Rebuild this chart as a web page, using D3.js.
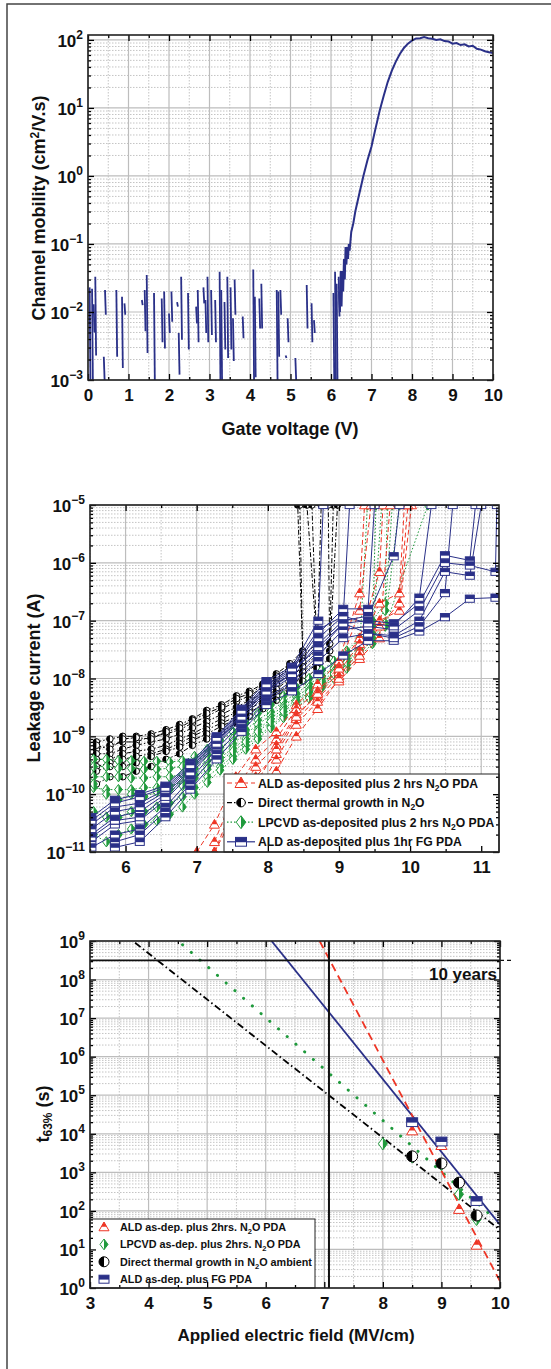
<!DOCTYPE html>
<html>
<head>
<meta charset="utf-8">
<script src="https://cdn.jsdelivr.net/npm/d3@7"></script>
<style>
  body { margin: 0; background: #fff; }
  svg text { font-family: "Liberation Sans", Arial, sans-serif; font-weight: bold; fill: #111; }
</style>
</head>
<body>
<svg id="fig" width="551" height="1369"></svg>
<script>
// ---------- panel 1: channel mobility vs gate voltage ----------
const gateV = [6.20,6.22,6.24,6.26,6.28,6.30,6.32,6.34,6.36,6.38,6.40,6.42,6.44,6.46,6.50,6.55,6.60,6.70,6.80,6.90,7.00,7.10,7.20,7.30,7.40,7.50,7.60,7.70,7.80,7.90,8.00,8.10,8.20,8.30,8.40,8.50,8.60,8.70,8.80,8.90,9.00,9.10,9.20,9.30,9.40,9.50,9.60,9.70,9.80,9.90,10.0];
const mobility = [0.02,0.01,0.04,0.012,0.04,0.02,0.06,0.03,0.09,0.05,0.09,0.06,0.1,0.08,0.15,0.2,0.3,0.55,1.0,1.7,2.7,5,9,15,24,35,48,62,76,88,98,105,106,110,106,104,100,102,96,95,88,90,84,86,80,82,74,72,68,66,64];
// noisy sub-threshold readings (voltage, upper and lower value of each stroke)
const noiseV  = [0.04,0.10,0.14,0.18,0.39,0.42,0.70,0.84,0.90,1.33,1.40,1.45,1.63,1.82,1.88,2.00,2.06,2.20,2.24,2.30,2.47,2.67,2.71,2.85,2.90,2.95,3.04,3.14,3.25,3.29,3.37,3.44,3.52,3.58,3.62,3.82,4.08,4.12,4.23,4.28,4.66,4.70,4.75,4.88,4.93,5.12,5.40,5.52,5.58,6.06,6.10,6.14,6.19];
const noiseHi = [0.023,0.022,0.013,0.033,0.0022,0.021,0.021,0.0168,0.0134,0.015,0.021,0.035,0.019,0.0158,0.020,0.0095,0.020,0.014,0.0049,0.033,0.019,0.012,0.021,0.023,0.015,0.033,0.021,0.015,0.039,0.021,0.014,0.033,0.023,0.0081,0.030,0.0086,0.042,0.0168,0.0158,0.026,0.021,0.020,0.021,0.0023,0.0081,0.0021,0.025,0.0134,0.0076,0.019,0.039,0.026,0.033];
const noiseLo = [0.001,0.001,0.005,0.0023,0.001,0.0091,0.0022,0.0015,0.0091,0.0126,0.0052,0.0025,0.001,0.0036,0.0029,0.0049,0.0072,0.012,0.0012,0.0039,0.0028,0.0068,0.0036,0.0134,0.0049,0.0036,0.0046,0.0036,0.001,0.001,0.0028,0.0021,0.0028,0.0019,0.0091,0.0041,0.001,0.0011,0.0057,0.0057,0.001,0.0022,0.0091,0.0021,0.0036,0.001,0.0057,0.0036,0.0049,0.001,0.001,0.001,0.0086];

// ---------- panel 2: leakage current ramps ----------
const thermalV = [5.59,5.78,5.96,6.15,6.36,6.57,6.76,6.94,7.14,7.35,7.56,7.74,7.93,8.12,8.31,8.49,8.69,8.87];
const thermalRuns = [
  [8e-10,9e-10,1e-9,1e-9,1.1e-9,1.3e-9,1.6e-9,2e-9,2.8e-9,3.5e-9,5e-9,6e-9,8e-9,1.2e-8,1.8e-8,3e-8],
  [6e-10,7e-10,8e-10,8e-10,1e-9,1.1e-9,1.3e-9,1.7e-9,2.2e-9,3e-9,4e-9,5e-9,7e-9,1e-8,1.5e-8,2.5e-8,4e-8],
  [5e-10,5e-10,6e-10,7e-10,8e-10,9e-10,1.1e-9,1.4e-9,1.8e-9,2.4e-9,3.2e-9,4.2e-9,5.5e-9,8e-9,1.2e-8,2e-8,3e-8],
  [4e-10,4e-10,5e-10,5.5e-10,6e-10,7e-10,9e-10,1.1e-9,1.5e-9,2e-9,2.6e-9,3.5e-9,4.5e-9,6.5e-9,1e-8,1.6e-8,2.5e-8,4e-8],
  [3e-10,3.5e-10,4e-10,4.5e-10,5e-10,6e-10,7.5e-10,1e-9,1.3e-9,1.7e-9,2.2e-9,3e-9,4e-9,5.5e-9,8e-9,1.3e-8,2e-8,3e-8],
  [2.5e-10,3e-10,3e-10,3.5e-10,4.5e-10,5.5e-10,6.5e-10,8.5e-10,1.1e-9,1.5e-9,2e-9,2.6e-9,3.5e-9,5e-9,7e-9,1.1e-8,1.8e-8],
  [7e-10,6e-10,9e-10,9.5e-10,9e-10,1.2e-9,1.4e-9,1.9e-9,2.5e-9,3.2e-9,4.5e-9,5.5e-9,7.5e-9,1.1e-8,1.6e-8,2.8e-8],
  [1.5e-10,2e-10,2e-10,2.5e-10,3e-10,4e-10,5e-10,7e-10,9e-10,1.2e-9,1.7e-9,2.2e-9,3e-9,4.2e-9,6e-9,9e-9,1.5e-8,2.2e-8]
];
const thermalBreak = [8.42,8.55,8.62,8.92,8.98,8.75,8.45,8.85];

const lpcvdV = [5.55,5.73,5.90,6.08,6.26,6.44,6.62,6.80,6.97,7.15,7.33,7.51,7.69,7.86,8.04,8.22,8.40,8.58,8.76,8.93,9.11,9.29,9.47,9.65];
const lpcvdRuns = [
  [4e-10,4e-10,3.8e-10,3.8e-10,3.7e-10,3.7e-10,3.6e-10,3.8e-10,4.5e-10,6e-10,8.5e-10,1.2e-9,1.7e-9,2.5e-9,3.5e-9,5e-9,7e-9,1e-8,1.4e-8,2e-8,3e-8,5e-8,1e-7,2e-7],
  [3e-10,3e-10,2.8e-10,2.8e-10,2.7e-10,2.7e-10,2.8e-10,3e-10,3.6e-10,4.8e-10,6.5e-10,9e-10,1.3e-9,1.9e-9,2.7e-9,4e-9,5.5e-9,8e-9,1.1e-8,1.6e-8,2.5e-8,4e-8,8e-8,1.5e-7],
  [2e-10,2e-10,2e-10,1.9e-10,1.9e-10,2e-10,2e-10,2.2e-10,2.8e-10,3.8e-10,5.2e-10,7.5e-10,1.1e-9,1.6e-9,2.3e-9,3.3e-9,4.8e-9,7e-9,1e-8,1.5e-8,2.2e-8,3.5e-8,6e-8],
  [1.3e-10,1.2e-10,1.2e-10,1.2e-10,1.3e-10,1.3e-10,1.4e-10,1.6e-10,2.2e-10,3e-10,4.3e-10,6.2e-10,9e-10,1.3e-9,2e-9,3e-9,4.3e-9,6.2e-9,9e-9,1.3e-8,2e-8,3.2e-8,5e-8,9e-8],
  [5e-11,4e-11,4e-11,5e-11,5e-11,6e-11,7e-11,9e-11,1.3e-10,2e-10,3e-10,4.5e-10,7e-10,1e-9,1.5e-9,2.3e-9,3.5e-9,5e-9,7.5e-9,1.1e-8,1.7e-8,2.7e-8,4.5e-8,8e-8],
  [2e-11,1.5e-11,2e-11,2.5e-11,3e-11,3.5e-11,4.5e-11,6e-11,1e-10,1.6e-10,2.6e-10,4e-10,6e-10,9e-10,1.4e-9,2.1e-9,3.2e-9,4.6e-9,7e-9,1e-8,1.5e-8,2.4e-8,4e-8],
  [1.5e-10,1e-10,8e-11,1e-10,9e-11,1.1e-10,1.2e-10,1.4e-10,1.9e-10,2.7e-10,3.8e-10,5.5e-10,8e-10,1.2e-9,1.8e-9,2.7e-9,4e-9,5.8e-9,8.5e-9,1.2e-8,1.9e-8,3e-8]
];
const lpcvdBreak = [9.68,9.75,9.52,9.85,10.25,9.6,9.4];

const aldN2oV = [7.00,7.25,7.55,7.83,8.12,8.40,8.70,9.00,9.29,9.57,9.85];
const aldN2oRuns = [
  [1e-11,3e-11,2e-10,6e-10,1.2e-9,3.5e-9,8e-9,2e-8,3e-7],
  [null,1.5e-11,1.2e-10,4e-10,9e-10,3e-9,6e-9,1.6e-8,5e-8,7e-7],
  [null,1e-11,8e-11,3e-10,7e-10,2.4e-9,5e-9,1.3e-8,4e-8,2e-7,3e-7],
  [null,null,4e-11,2e-10,5e-10,2e-9,4.5e-9,1.1e-8,3e-8,1e-7,1.5e-7],
  [null,null,2e-11,1e-10,4e-10,1.6e-9,4e-9,9e-9,2.2e-8,5e-8],
  [null,null,null,5e-11,2.5e-10,1e-9,3e-9,1e-8,2.5e-8,8e-8,2e-7],
  [null,1e-11,5e-11,1.5e-10,6e-10,2.2e-9,5.5e-9,1.5e-8,1.5e-7]
];
const aldN2oBreak = [9.36,9.62,9.92,10.02,9.72,9.97,9.45];

const aldFgV = [5.52,5.85,6.20,6.56,6.91,7.28,7.63,7.98,8.34,8.71,9.06,9.41,9.77,10.13,10.49,10.84,11.20];
const aldFgRuns = [
  [4e-11,8e-11,1e-10,1.4e-10,3.5e-10,1e-9,3e-9,9e-9,1.6e-8,1e-7],
  [3e-11,6e-11,7e-11,1.2e-10,3e-10,9e-10,2.6e-9,7.5e-9,1.4e-8,6e-8,1.6e-7,1.6e-7],
  [2e-11,4e-11,5e-11,1e-10,2.6e-10,8e-10,2.3e-9,6.5e-9,1.2e-8,4e-8,1e-7,1.2e-7,1.3e-6],
  [1.5e-11,3e-11,3.5e-11,8e-11,2.2e-10,7e-10,2e-9,5.5e-9,1.1e-8,3e-8,9e-8,1e-7,9e-8,2e-7,1.35e-6,1.1e-6],
  [1.2e-11,2e-11,2.5e-11,6e-11,1.8e-10,6e-10,1.7e-9,4.5e-9,9e-9,2.5e-8,7e-8,8e-8,7e-8,1.5e-7,1e-6,9e-7,7e-7],
  [null,1.5e-11,2e-11,5e-11,1.5e-10,5e-10,1.4e-9,4e-9,8e-9,2e-8,5e-8,6e-8,5.5e-8,1e-7,7e-7,6e-7],
  [null,1.2e-11,1.5e-11,4e-11,1.2e-10,4e-10,1.2e-9,3.5e-9,6e-9,1.2e-8,2.5e-8,4.5e-8,4.5e-8,6.5e-8,1.15e-7,2.4e-7,2.5e-7],
  [2.5e-11,5e-11,6e-11,1.1e-10,2.8e-10,8.5e-10,2.4e-9,7e-9,1.3e-8,3.5e-8,9e-8,6e-8,5e-8,8e-8,3e-7],
  [1.8e-11,3.5e-11,4e-11,9e-11,2.4e-10,7.5e-10,2.2e-9,6e-9,1.2e-8,5e-8,1.2e-7,9e-8,8e-8,2.5e-7],
  [3.5e-11,7e-11,9e-11,1.3e-10,3.2e-10,9.5e-10,2.8e-9,8e-9,1.5e-8,7e-8,1.2e-7]
];
const aldFgBreak = [8.78,9.5,9.85,10.92,11.22,11.0,null,10.6,10.3,9.15];
const compliance = 1e-5;

// ---------- panel 3: t63% vs applied field ----------
const aldN2oField = [8.5, 9.0, 9.3, 9.6];
const aldN2oT63 = [1.2e4, 5e3, 1.1e2, 13];
const lpcvdField = [8.0, 8.5, 9.0, 9.3, 9.6];
const lpcvdT63 = [5.5e3, 2.5e3, 1.6e3, 2.7e2, 60];
const thermalField = [8.5, 9.0, 9.3, 9.6];
const thermalT63 = [2.6e3, 1.7e3, 5.4e2, 76];
const aldFgField = [8.5, 9.0, 9.6];
const aldFgT63 = [2e4, 6.3e3, 1.8e2];
// extrapolated fits (end points)
const aldN2oFit = [[6.92, 1e9], [10, 1.5]];
const lpcvdFit = [[4.58, 8e8], [9.9, 65]];
const thermalFit = [[3.77, 9e8], [10, 32]];
const aldFgFit = [[6.1, 1e9], [10, 44]];
const tenYears = 3.15e8;
const markField = 7.08;

const RED = "#ee3424", GREEN = "#1f9a3c", NAVY = "#2a3088", BLACK = "#000";

const svg = d3.select("#fig");
svg.append("path").attr("d", "M551,4H7V1369").attr("fill", "none")
  .attr("stroke", "#444").attr("stroke-width", 1.5);

function makePanel(o) {
  const x = d3.scaleLinear().domain(o.xDom).range([o.left, o.right]);
  const y = d3.scaleLog().domain(o.yDom).range([o.bottom, o.top]);
  const g = svg.append("g");
  const e0 = Math.floor(Math.log10(o.yDom[0]) + 1e-9), e1 = Math.ceil(Math.log10(o.yDom[1]) - 1e-9);
  const decades = d3.range(e0, e1 + 1).map(e => Math.pow(10, e))
    .filter(v => v >= o.yDom[0] * 0.999 && v <= o.yDom[1] * 1.001);
  const yMinor = [];
  d3.range(e0, e1 + 1).forEach(e => {
    for (let k = 2; k < 10; k++) {
      const v = k * Math.pow(10, e);
      if (v > o.yDom[0] && v < o.yDom[1]) yMinor.push(v);
    }
  });

  // grid
  const grid = g.append("g");
  grid.selectAll(".mx").data(o.xMinor).join("line")
    .attr("x1", d => x(d)).attr("x2", d => x(d)).attr("y1", o.top).attr("y2", o.bottom)
    .attr("stroke", "#c4c4c4").attr("stroke-dasharray", "1.5,1.5");
  grid.selectAll(".my").data(yMinor).join("line")
    .attr("y1", d => y(d)).attr("y2", d => y(d)).attr("x1", o.left).attr("x2", o.right)
    .attr("stroke", "#c4c4c4").attr("stroke-dasharray", "1.5,1.5");
  grid.selectAll(".Mx").data(o.xMajor).join("line")
    .attr("x1", d => x(d)).attr("x2", d => x(d)).attr("y1", o.top).attr("y2", o.bottom)
    .attr("stroke", "#bdbdbd").attr("stroke-width", 1.2);
  grid.selectAll(".My").data(decades).join("line")
    .attr("y1", d => y(d)).attr("y2", d => y(d)).attr("x1", o.left).attr("x2", o.right)
    .attr("stroke", "#bdbdbd").attr("stroke-width", 1.2);

  svg.append("clipPath").attr("id", "clip" + o.id).append("rect")
    .attr("x", o.left).attr("y", o.top).attr("width", o.right - o.left).attr("height", o.bottom - o.top);
  const data = g.append("g").attr("clip-path", `url(#clip${o.id})`);
  const over = g.append("g");
  const axes = g.append("g");

  const styleAxis = sel => { sel.select(".domain").remove(); sel.selectAll("line").attr("stroke-width", 1.3); };
  axes.append("g").attr("transform", `translate(0,${o.bottom})`)
    .call(d3.axisBottom(x).tickValues(o.xMajor).tickSize(-6).tickPadding(9).tickFormat(d3.format("d")))
    .call(styleAxis).attr("font-size", 17).attr("font-family", null);
  axes.append("g").attr("transform", `translate(0,${o.bottom})`)
    .call(d3.axisBottom(x).tickValues(o.xMinor).tickSize(-3).tickFormat("")).call(styleAxis);
  axes.append("g").attr("transform", `translate(0,${o.top})`)
    .call(d3.axisTop(x).tickValues(o.xMajor).tickSize(-6).tickFormat("")).call(styleAxis);
  axes.append("g").attr("transform", `translate(0,${o.top})`)
    .call(d3.axisTop(x).tickValues(o.xMinor).tickSize(-3).tickFormat("")).call(styleAxis);
  axes.append("g").attr("transform", `translate(${o.left},0)`)
    .call(d3.axisLeft(y).tickValues(decades).tickSize(-6).tickFormat("")).call(styleAxis);
  axes.append("g").attr("transform", `translate(${o.left},0)`)
    .call(d3.axisLeft(y).tickValues(yMinor).tickSize(-3).tickFormat("")).call(styleAxis);
  axes.append("g").attr("transform", `translate(${o.right},0)`)
    .call(d3.axisRight(y).tickValues(decades).tickSize(-6).tickFormat("")).call(styleAxis);
  axes.append("g").attr("transform", `translate(${o.right},0)`)
    .call(d3.axisRight(y).tickValues(yMinor).tickSize(-3).tickFormat("")).call(styleAxis);

  axes.append("rect").attr("x", o.left).attr("y", o.top)
    .attr("width", o.right - o.left).attr("height", o.bottom - o.top)
    .attr("fill", "none").attr("stroke", "#222").attr("stroke-width", 1.6);

  axes.selectAll(".ylab").data(decades).join("text")
    .attr("x", o.left - 5).attr("y", d => y(d) + 7).attr("text-anchor", "end").attr("font-size", 17)
    .each(function (d) {
      const t = d3.select(this);
      t.append("tspan").text("10");
      t.append("tspan").attr("dy", -8).attr("font-size", 12)
        .text(String(Math.round(Math.log10(d))).replace("-", "\u2212"));
    });
  return { x, y, data, over, axes };
}

// text with sub/superscripts; the baseline shift is undone on the next text run
function richText(sel, parts, subSize) {
  let back = 0;
  parts.forEach(p => {
    if (typeof p === "string") {
      sel.append("tspan").attr("dy", back || null).text(p);
      back = 0;
    } else if (p.sub) {
      sel.append("tspan").attr("dy", 3 + back).attr("font-size", subSize).text(p.sub);
      back = -3;
    } else if (p.sup) {
      sel.append("tspan").attr("dy", -6 + back).attr("font-size", subSize).text(p.sup);
      back = 6;
    }
  });
}

function marker(sel, kind, color, s) {
  if (kind === "tri") {
    const f = 0.55, m = -s + 1.75 * s * f;
    sel.append("path").attr("d", `M0,${-s}L${s},${0.75 * s}L${-s},${0.75 * s}Z`)
      .attr("fill", "#fff").attr("stroke", color);
    sel.append("path").attr("d", `M0,${-s}L${s * f},${m}L${-s * f},${m}Z`).attr("fill", color);
  } else if (kind === "circ") {
    sel.append("circle").attr("r", s).attr("fill", "#fff").attr("stroke", color);
    sel.append("path").attr("d", `M0,${-s}A${s},${s} 0 0 0 0,${s}Z`).attr("fill", color);
  } else if (kind === "dia") {
    const h = s * 1.35;
    sel.append("path").attr("d", `M0,${-h}L${s},0L0,${h}L${-s},0Z`).attr("fill", "#fff").attr("stroke", color);
    sel.append("path").attr("d", `M0,${-h}L${s},0L0,${h}Z`).attr("fill", color);
  } else {
    const h = s * 0.8;
    sel.append("rect").attr("x", -s).attr("y", -h).attr("width", 2 * s).attr("height", 2 * h)
      .attr("fill", "#fff").attr("stroke", color);
    sel.append("rect").attr("x", -s).attr("y", -h).attr("width", 2 * s).attr("height", h * 1.1).attr("fill", color);
  }
}

// ================= panel 1 =================
const p1 = makePanel({ id: 1, left: 88, right: 493, top: 35, bottom: 380,
  xDom: [0, 10], yDom: [1e-3, 118], xMajor: d3.range(0, 11), xMinor: d3.range(0.5, 10, 1) });

p1.data.selectAll(".noise").data(noiseV).join("line")
  .attr("x1", d => p1.x(d)).attr("x2", d => p1.x(d + 0.02))
  .attr("y1", (d, i) => p1.y(noiseHi[i])).attr("y2", (d, i) => p1.y(noiseLo[i]))
  .attr("stroke", NAVY).attr("stroke-width", 1.8);
p1.data.append("path").datum(gateV.map((v, i) => [v, mobility[i]]))
  .attr("d", d3.line().x(d => p1.x(d[0])).y(d => p1.y(d[1])))
  .attr("fill", "none").attr("stroke", NAVY).attr("stroke-width", 2);

p1.axes.append("text").attr("x", 290).attr("y", 435).attr("text-anchor", "middle")
  .attr("font-size", 18).text("Gate voltage (V)");
p1.axes.append("text").attr("transform", "translate(45,208) rotate(-90)").attr("text-anchor", "middle")
  .attr("font-size", 18).call(t => richText(t, ["Channel mobility (cm", { sup: "2" }, "/V.s)"], 12));

// ================= panel 2 =================
const p2 = makePanel({ id: 2, left: 90, right: 499, top: 505, bottom: 852,
  xDom: [5.5, 11.25], yDom: [1e-11, 1e-5], xMajor: d3.range(6, 12), xMinor: d3.range(5.5, 11.3, 1) });

const groups = [
  { xs: thermalV, runs: thermalRuns, brk: thermalBreak, color: BLACK, dash: "5,2,1.5,2", kind: "circ", s: 3.3 },
  { xs: lpcvdV, runs: lpcvdRuns, brk: lpcvdBreak, color: GREEN, dash: "1.5,2", kind: "dia", s: 3.8 },
  { xs: aldN2oV, runs: aldN2oRuns, brk: aldN2oBreak, color: RED, dash: "5,3", kind: "tri", s: 5 },
  { xs: aldFgV, runs: aldFgRuns, brk: aldFgBreak, color: NAVY, dash: null, kind: "sq", s: 4.5 }
];
const line2 = d3.line().x(d => p2.x(d[0])).y(d => p2.y(d[1]));
groups.forEach(gr => {
  const all = [];
  gr.runs.forEach((run, i) => {
    const pts = run.map((v, j) => [gr.xs[j], v]).filter(d => d[1] != null);
    const path = pts.slice();
    if (gr.brk[i] != null) {
      path.push([gr.brk[i], compliance], [11.25, compliance]);
      pts.push([gr.brk[i], compliance]);
    }
    p2.data.append("path").datum(path).attr("d", line2).attr("fill", "none")
      .attr("stroke", gr.color).attr("stroke-width", 1).attr("stroke-dasharray", gr.dash);
    all.push(...pts);
  });
  p2.data.selectAll(null).data(all).join("g")
    .attr("transform", d => `translate(${p2.x(d[0])},${p2.y(d[1])})`)
    .each(function () { marker(d3.select(this), gr.kind, gr.color, gr.s); });
});

// legend panel 2
const leg2 = p2.over.append("g");
leg2.append("rect").attr("x", 224).attr("y", 774).attr("width", 275).attr("height", 78)
  .attr("fill", "#fff").attr("stroke", "#222").attr("stroke-width", 1);
const leg2Items = [
  { g: groups[2], txt: ["ALD as-deposited plus 2 hrs N", { sub: "2" }, "O PDA"] },
  { g: groups[0], txt: ["Direct thermal growth in N", { sub: "2" }, "O"] },
  { g: groups[1], txt: ["LPCVD as-deposited plus 2 hrs N", { sub: "2" }, "O PDA"] },
  { g: groups[3], txt: ["ALD as-deposited plus 1hr FG PDA"] }
];
leg2Items.forEach((it, i) => {
  const cy = 783 + i * 19.6;
  leg2.append("line").attr("x1", 227).attr("x2", 255).attr("y1", cy).attr("y2", cy)
    .attr("stroke", it.g.color).attr("stroke-width", 1.2).attr("stroke-dasharray", it.g.dash);
  const m = leg2.append("g").attr("transform", `translate(241,${cy})`);
  marker(m, it.g.kind, it.g.color, it.g.kind === "tri" ? 6 : it.g.s + 1);
  leg2.append("text").attr("x", 258).attr("y", cy + 4.5).attr("font-size", 12.2)
    .call(t => richText(t, it.txt, 8.5));
});

p2.axes.append("text").attr("transform", "translate(40,678) rotate(-90)").attr("text-anchor", "middle")
  .attr("font-size", 18).text("Leakage current (A)");

// ================= panel 3 =================
const p3 = makePanel({ id: 3, left: 90, right: 500, top: 941, bottom: 1288,
  xDom: [3, 10], yDom: [1, 1e9], xMajor: d3.range(3, 11), xMinor: d3.range(3.5, 10, 1) });

const line3 = d3.line().x(d => p3.x(d[0])).y(d => p3.y(d[1]));
p3.data.append("path").datum(thermalFit).attr("d", line3).attr("stroke", BLACK)
  .attr("stroke-width", 1.8).attr("stroke-dasharray", "7,3,1.5,3").attr("fill", "none");
p3.data.append("path").datum(lpcvdFit).attr("d", line3).attr("stroke", GREEN)
  .attr("stroke-width", 3).attr("stroke-linecap", "round").attr("stroke-dasharray", "0.1,11.5").attr("fill", "none");
p3.data.append("path").datum(aldFgFit).attr("d", line3).attr("stroke", NAVY)
  .attr("stroke-width", 1.8).attr("fill", "none");
p3.data.append("path").datum(aldN2oFit).attr("d", line3).attr("stroke", RED)
  .attr("stroke-width", 1.8).attr("stroke-dasharray", "8,5").attr("fill", "none");

// 10 years level and marked field
p3.data.append("path").datum([[3, tenYears], [10, tenYears]]).attr("d", line3)
  .attr("stroke", "#111").attr("stroke-width", 1.6);
p3.over.append("path").datum([[10, tenYears], [10.2, tenYears]]).attr("d", line3)
  .attr("stroke", "#111").attr("stroke-width", 1.4).attr("stroke-dasharray", "4,3");
p3.data.append("path").datum([[markField, 1], [markField, 1e9]]).attr("d", line3)
  .attr("stroke", "#111").attr("stroke-width", 2);
p3.over.append("text").attr("x", 497).attr("y", 980).attr("text-anchor", "end")
  .attr("font-size", 17).text("10 years");

const pts3 = [
  { xs: aldN2oField, ys: aldN2oT63, kind: "tri", color: RED, s: 5.5 },
  { xs: lpcvdField, ys: lpcvdT63, kind: "dia", color: GREEN, s: 4.5 },
  { xs: thermalField, ys: thermalT63, kind: "circ", color: BLACK, s: 5.5 },
  { xs: aldFgField, ys: aldFgT63, kind: "sq", color: NAVY, s: 5.5 }
];
pts3.forEach(sr => {
  p3.data.selectAll(null).data(sr.xs.map((v, i) => [v, sr.ys[i]])).join("g")
    .attr("transform", d => `translate(${p3.x(d[0])},${p3.y(d[1])})`)
    .each(function () { marker(d3.select(this), sr.kind, sr.color, sr.s); });
});

const leg3 = p3.over.append("g");
leg3.append("rect").attr("x", 90).attr("y", 1219).attr("width", 225).attr("height", 69)
  .attr("fill", "#fff").attr("stroke", "#222").attr("stroke-width", 1);
const leg3Items = [
  { sr: pts3[0], txt: ["ALD as-dep. plus 2hrs. N", { sub: "2" }, "O PDA"] },
  { sr: pts3[1], txt: ["LPCVD as-dep. plus 2hrs. N", { sub: "2" }, "O PDA"] },
  { sr: pts3[2], txt: ["Direct thermal growth in N", { sub: "2" }, "O ambient"] },
  { sr: pts3[3], txt: ["ALD as-dep. plus FG PDA"] }
];
leg3Items.forEach((it, i) => {
  const cy = 1227 + i * 17.4;
  const m = leg3.append("g").attr("transform", `translate(104,${cy})`);
  marker(m, it.sr.kind, it.sr.color, it.sr.kind === "dia" ? 4 : 5);
  leg3.append("text").attr("x", 120).attr("y", cy + 4).attr("font-size", 10.8)
    .call(t => richText(t, it.txt, 7.5));
});

p3.axes.append("text").attr("x", 296).attr("y", 1341).attr("text-anchor", "middle")
  .attr("font-size", 17).text("Applied electric field (MV/cm)");
p3.axes.append("text").attr("transform", "translate(49,1114) rotate(-90)").attr("text-anchor", "middle")
  .attr("font-size", 18).call(t => richText(t, ["t", { sub: "63%" }, " (s)"], 12));
</script>
</body>
</html>
